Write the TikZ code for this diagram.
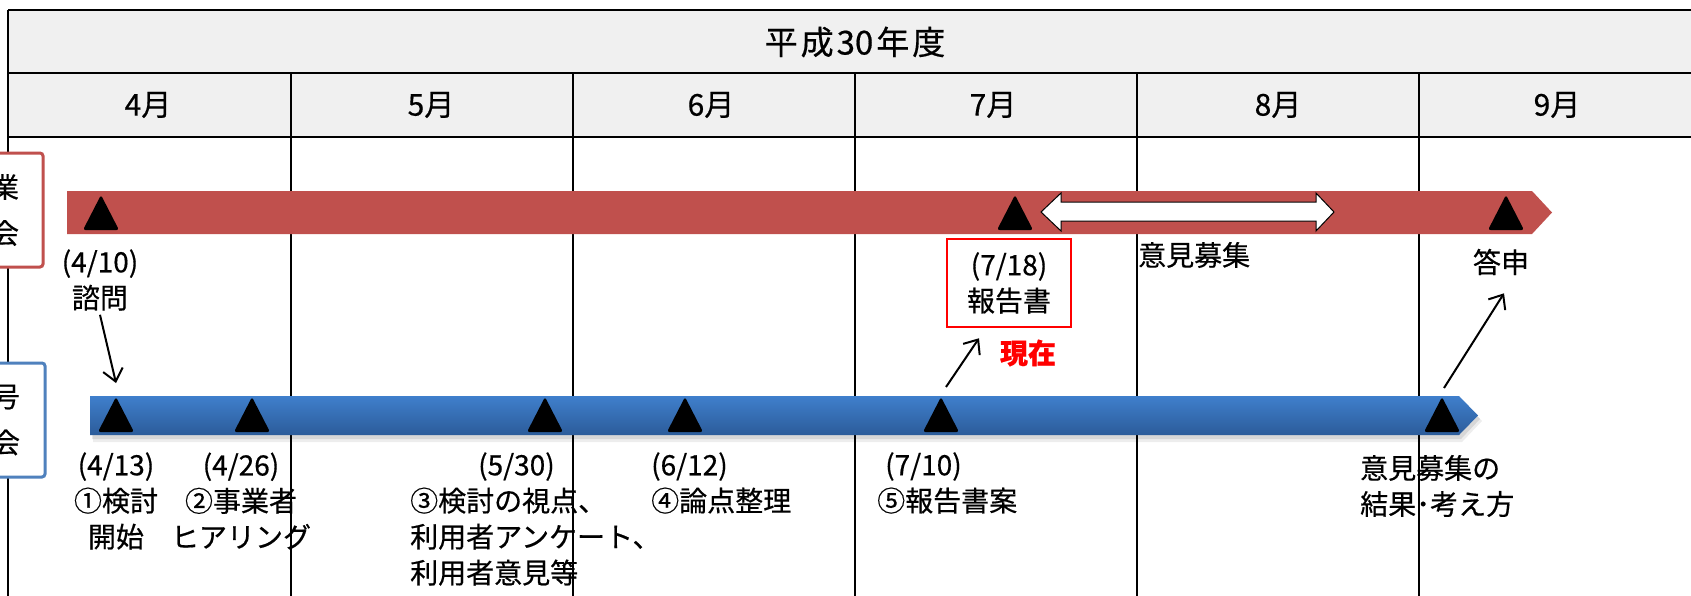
\documentclass[tikz,border=0pt]{standalone}
\usepackage{fontspec}
\setmainfont{Noto Sans CJK JP}[FakeBold=0.5]
\usetikzlibrary{arrows.meta}
\definecolor{barred}{HTML}{C0504D}
\definecolor{boxblue}{HTML}{4F81BD}
\definecolor{bluetop}{HTML}{3F7FCC}
\definecolor{bluemid}{HTML}{3A75BE}
\definecolor{bluebot}{HTML}{2C5C9A}
\definecolor{headgray}{HTML}{F0F0F0}
\begin{document}
\begin{tikzpicture}[x=1pt,y=-1pt,
  grid/.style={line width=2pt, black},
  lbl/.style={font=\fontsize{28}{36}\selectfont, inner sep=0pt, align=center},
  lbll/.style={lbl, align=left},
  mon/.style={font=\fontsize{30}{30}\selectfont, inner sep=0pt},
  sidebox/.style={line width=3pt, fill=white, rounded corners=3pt, inner sep=0pt,
    align=center, font=\fontsize{28}{46}\selectfont},
  arr/.style={line width=2pt, -{Straight Barb[length=12pt,width=20pt]}},
  tri/.pic={\fill[black, rounded corners=2.5pt] (-18,0) -- (0,-35) -- (18,0) -- cycle;}
]
\useasboundingbox (0,0) rectangle (1691,595);
\fill[white] (0,0) rectangle (1691,595);
% table header
\fill[headgray] (8,10) rectangle (1720,137);
\draw[grid] (8,10) -- (1720,10);
\draw[grid] (8,73) -- (1720,73);
\draw[grid] (8,137) -- (1720,137);
\draw[grid] (8,10) -- (8,600);
\foreach \x in {291,573,855,1137,1419} \draw[grid] (\x,73) -- (\x,600);
\node[font=\fontsize{33}{33}\selectfont, inner sep=0pt] (hdr) at (855,42)
  {平\kern3pt 成\kern3pt 30\kern3pt 年\kern3pt 度};
\node[mon] (m4) at (148,105) {4月};
\node[mon] (m5) at (431,105) {5月};
\node[mon] (m6) at (711,105) {6月};
\node[mon] (m7) at (993,105) {7月};
\node[mon] (m8) at (1278,105) {8月};
\node[mon] (m9) at (1557,105) {9月};
% side boxes
\node[sidebox, draw=barred, minimum width=76pt, minimum height=114pt] (lred) at (5,210) {業\\会};
\node[sidebox, draw=boxblue, minimum width=78pt, minimum height=114pt] (lblue) at (6,420) {号\\会};
% red bar
\fill[barred] (67,191) -- (1532,191) -- (1552,212.5) -- (1532,234) -- (67,234) -- cycle;
\pic at (101,230) {tri}; \coordinate (r1) at (101,195);
\pic at (1015,230) {tri}; \coordinate (r2) at (1015,195);
\pic at (1506,230) {tri}; \coordinate (r3) at (1506,195);
\filldraw[fill=white, draw=black, line width=1pt]
  (1041,212) -- (1061,193) -- (1061,202) -- (1316,202) -- (1316,193) -- (1334,212)
  -- (1316,231) -- (1316,221) -- (1061,221) -- (1061,231) -- cycle;
% blue bar with shadow
\fill[black, opacity=0.07] (93,401) -- (1462,401) -- (1482,421) -- (1462,442) -- (93,442) -- cycle;
\fill[black, opacity=0.09] (92,399) -- (1461,399) -- (1480,419) -- (1461,439) -- (92,439) -- cycle;
\shade[top color=bluetop, middle color=bluemid, bottom color=bluebot]
  (90,396) -- (1459,396) -- (1478,415.5) -- (1459,435) -- (90,435) -- cycle;
\pic at (116,432) {tri}; \coordinate (b1) at (116,397);
\pic at (252,432) {tri}; \coordinate (b2) at (252,397);
\pic at (545,432) {tri}; \coordinate (b3) at (545,397);
\pic at (685,432) {tri}; \coordinate (b4) at (685,397);
\pic at (941,432) {tri}; \coordinate (b5) at (941,397);
\pic at (1442,432) {tri}; \coordinate (b6) at (1442,397);
% labels
\node[lbl] (t410) at (100,280) {(4/10)\\諮問};
\node[lbll, anchor=west] (ikenboshu) at (1138,255) {意見募集};
\node[lbl] (toshin) at (1501,262) {答申};
\node[lbl, draw=red, line width=2.5pt, fill=white, minimum width=124pt, minimum height=88pt] (rep) at (1009,283) {(7/18)\\報告書};
\node[font=\fontsize{28}{28}\selectfont\bfseries, text=red, inner sep=0pt] (now) at (1028,353) {現在};
\node[lbl] (t413) at (116,501) {(4/13)\\①検討\\開始};
\node[lbl] (t426) at (241,501) {(4/26)\\②事業者\\ヒアリング};
\node[lbll, anchor=west] (t530) at (410,519) {\hspace*{68pt}(5/30)\\③検討の視点、\\利用者アンケート、\\利用者意見等};
\node[lbll, anchor=west] (t612) at (651,483) {(6/12)\\④論点整理};
\node[lbll, anchor=west] (t710) at (877,483) {\hspace*{8pt}(7/10)\\⑤報告書案};
\node[lbll, anchor=west] (tres) at (1360,486) {意見募集の\\結果･考え方};
% connectors
\draw[arr] ([yshift=-4pt]t410.south) -- ([yshift=14pt]b1);
\draw[arr] ([shift={(5pt,10pt)}]b5) -- ([shift={(-30pt,-10pt)}]rep.south);
\draw[arr] ([shift={(2pt,9pt)}]b6) -- ([shift={(3pt,-18pt)}]toshin.south);
\end{tikzpicture}
\end{document}
